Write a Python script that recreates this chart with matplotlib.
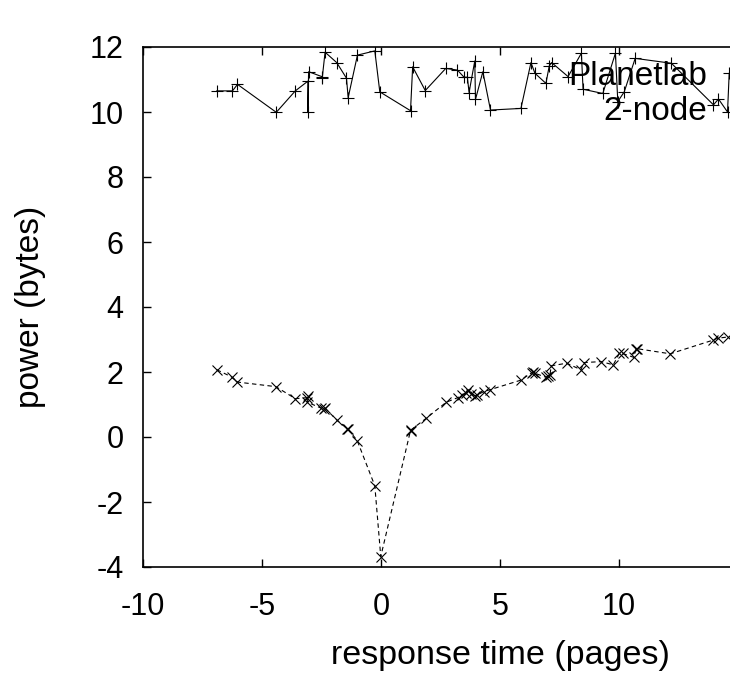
import matplotlib
matplotlib.use("Agg")
import matplotlib.pyplot as plt

plt.rcParams['font.family'] = ['Liberation Sans', 'DejaVu Sans']
plt.rcParams['axes.unicode_minus'] = False

# Planetlab 2-node (solid line, '+' markers)
planet_x = [-6.90, -6.24, -6.03, -4.40, -3.60, -3.07, -3.07, -3.04, -2.49, -2.47,
            -2.35, -1.86, -1.45, -1.38, -0.99, -0.26, -0.05, 1.24, 1.33, 1.86,
            2.72, 3.21, 3.49, 3.63, 3.70, 3.94, 3.97, 4.28, 4.60, 5.88,
            6.30, 6.47, 6.93, 7.07, 7.17, 7.86, 8.42, 8.49, 9.32, 9.85,
            9.95, 10.22, 10.68, 12.20, 13.97, 14.18, 14.56, 14.63]
planet_y = [10.65, 10.65, 10.85, 9.99, 10.65, 10.95, 10.01, 11.24, 11.09, 11.04,
            11.84, 11.52, 11.04, 10.44, 11.75, 11.88, 10.62, 10.04, 11.39, 10.66,
            11.34, 11.29, 11.07, 11.07, 10.60, 11.57, 10.39, 11.24, 10.06, 10.11,
            11.52, 11.19, 10.88, 11.42, 11.52, 11.09, 11.81, 10.70, 10.57, 11.81,
            10.32, 10.62, 11.65, 11.50, 10.22, 10.40, 10.00, 11.19]

# second series (dashed line, 'x' markers)
second_x = [-6.90, -6.28, -6.03, -4.42, -3.60, -3.11, -3.06, -3.09, -2.52, -2.41,
            -2.37, -1.84, -1.41, -1.38, -1.00, -0.26, -0.01, 1.24, 1.28, 1.89,
            2.74, 3.22, 3.42, 3.56, 3.67, 3.78, 3.97, 4.05, 4.33, 4.60,
            5.88, 6.33, 6.40, 6.47, 6.93, 7.02, 7.10, 7.15, 7.80, 8.40,
            8.52, 9.25, 9.76, 10.01, 10.15, 10.62, 10.71, 10.74, 12.15, 13.95,
            14.15, 14.60]
second_y = [2.07, 1.85, 1.69, 1.55, 1.18, 1.21, 1.25, 1.07, 0.89, 0.87,
            0.90, 0.51, 0.26, 0.24, -0.11, -1.50, -3.68, 0.20, 0.23, 0.57,
            1.07, 1.21, 1.29, 1.34, 1.45, 1.32, 1.27, 1.30, 1.40, 1.46,
            1.75, 1.98, 2.00, 1.96, 1.84, 1.88, 1.91, 2.19, 2.27, 2.07,
            2.29, 2.32, 2.22, 2.57, 2.57, 2.45, 2.70, 2.72, 2.56, 2.98,
            3.04, 3.08]

x_ticks = [-10, -5, 0, 5, 10]
y_ticks = [-4, -2, 0, 2, 4, 6, 8, 10, 12]


def main():
    fig = plt.figure(figsize=(7.3, 6.75), dpi=100)
    # the original plot is wider than the picture; its right part is cut off
    ax = fig.add_axes([143 / 730, 1 - 567 / 675, 714 / 730, 520 / 675])

    ax.plot(planet_x, planet_y, color="black", lw=0.8, marker="+",
            markersize=8, markeredgewidth=0.8)
    ax.plot(second_x, second_y, color="black", lw=0.8, linestyle=(0, (4, 3)),
            marker="x", markersize=6.5, markeredgewidth=0.8)

    ax.set_xlim(-10, 20)
    ax.set_ylim(-4, 12)
    ax.set_xticks(x_ticks)
    ax.set_yticks(y_ticks)
    for s in ax.spines.values():
        s.set_linewidth(1.2)
    ax.tick_params(direction="in", length=6, width=1.0, labelsize=22,
                   top=True, right=True)
    ax.tick_params(axis="x", pad=18)
    ax.tick_params(axis="y", pad=14)

    ax.set_xlabel("response time (pages)", fontsize=24.5, labelpad=13)
    ax.set_ylabel("power (bytes)", fontsize=24, labelpad=31)

    fig.text(707 / 730, 1 - 85 / 675, "Planetlab", fontsize=24,
             ha="right", va="baseline")
    fig.text(707 / 730, 1 - 120 / 675, "2-node", fontsize=24,
             ha="right", va="baseline")

    fig.savefig("out.png", dpi=100)


if __name__ == "__main__":
    main()
